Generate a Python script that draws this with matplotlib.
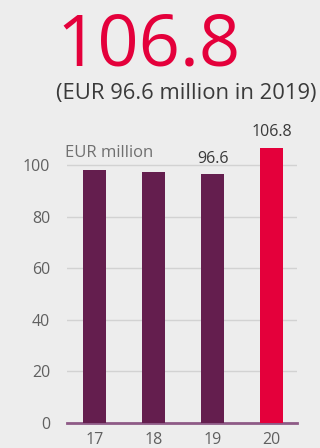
import matplotlib
matplotlib.use('Agg')
import matplotlib.pyplot as plt

years = ['17', '18', '19', '20']
values = [98.1, 97.3, 96.6, 106.8]
labelled = {2: '96.6', 3: '106.8'}
headline = '106.8'
subtitle = '(EUR 96.6 million in 2019)'
unit = 'EUR million'
yticks = [0, 20, 40, 60, 80, 100]

bg = '#ededed'
plum = '#641e4e'
red = '#e4003b'

plt.rcParams['font.family'] = ['Open Sans', 'DejaVu Sans']

fig = plt.figure(figsize=(3.2, 4.48), dpi=100, facecolor=bg)
ax = fig.add_axes([0.209, 0.0569, 0.719, 0.632], facecolor=bg)

colors = [plum, plum, plum, red]
x = range(len(years))
ax.bar(x, values, width=0.39, color=colors, zorder=3)

for i, txt in labelled.items():
    ax.annotate(txt, (i, values[i]), xytext=(0, 8), textcoords='offset points',
                ha='center', va='baseline', fontsize=11.5, color='#3a3a3a')

ax.set_xlim(-0.466, 3.43)
ax.set_ylim(0, 110)
ax.set_yticks(yticks)
ax.set_xticks(list(x))
ax.set_xticklabels(years)
ax.tick_params(axis='y', length=0, pad=12, labelsize=11.5, labelcolor='#606060')
ax.tick_params(axis='x', length=0, pad=7, labelsize=11.5, labelcolor='#606060')
ax.grid(axis='y', color='#d2d2d2', linewidth=1, zorder=0)
for s in ax.spines.values():
    s.set_visible(False)
ax.axhline(0, color='#8e5a86', linewidth=2, zorder=2, clip_on=False)

fig.text(56 / 320, 1 - 65 / 448, headline, fontsize=52, color=red,
         ha='left', va='baseline')
fig.text(56 / 320, 1 - 99 / 448, subtitle, fontsize=15.8, color='#3a3a3a',
         ha='left', va='baseline')
fig.text(65 / 320, 1 - 156.5 / 448, unit, fontsize=12, color='#707070',
         ha='left', va='baseline')

fig.savefig('out.png', dpi=100, facecolor=bg)
